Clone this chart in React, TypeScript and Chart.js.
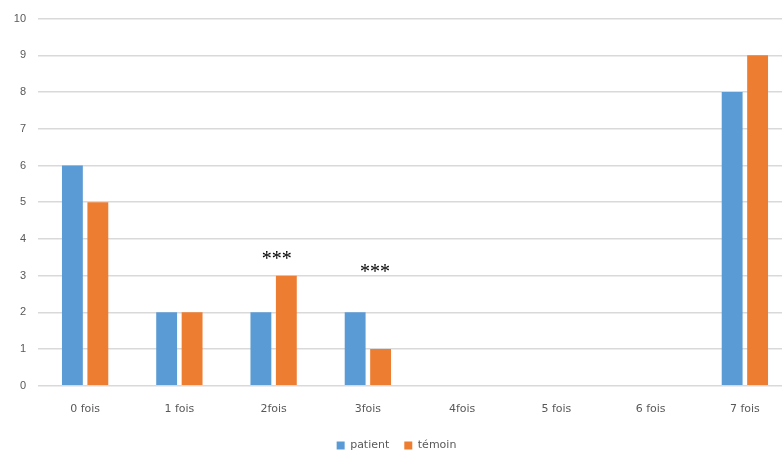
import React, { useEffect, useRef } from "react";
import { Chart, registerables } from "chart.js";

Chart.register(...registerables);

const categories = ["0 fois", "1 fois", "2fois", "3fois", "4fois", "5 fois", "6 fois", "7 fois"];
const patientValues = [6, 2, 2, 2, 0, 0, 0, 8];
const temoinValues = [5, 2, 3, 1, 0, 0, 0, 9];
const yTicks = [0, 1, 2, 3, 4, 5, 6, 7, 8, 9, 10];
// significance marks: category index, label, value height where the mark sits
const markCategories = [2, 3];
const markLabels = ["***", "***"];
const markLevels = [3.6, 3.24];

const starsPlugin = {
  id: "stars",
  afterDatasetsDraw(chart: any) {
    const { ctx, scales } = chart;
    ctx.save();
    ctx.fillStyle = "#000";
    ctx.font = "20px 'Liberation Serif', 'DejaVu Serif', serif";
    ctx.textAlign = "center";
    ctx.textBaseline = "middle";
    markCategories.forEach((ci, i) => {
      const x = scales.x.getPixelForValue(ci) + (i === 0 ? 3 : 7);
      const y = scales.y.getPixelForValue(markLevels[i]) + 6;
      ctx.fillText(markLabels[i], x, y);
    });
    ctx.restore();
  },
};

export default function App() {
  const ref = useRef<HTMLCanvasElement>(null);
  useEffect(() => {
    if (!ref.current) return;
    const font = { family: "'Liberation Sans', Arial, sans-serif", size: 11 };
    const wideFont = { family: "'DejaVu Sans', Verdana, sans-serif", size: 11 };
    const chart = new Chart(ref.current, {
      type: "bar",
      data: {
        labels: categories,
        datasets: [
          {
            label: "patient",
            data: patientValues,
            backgroundColor: "#5B9BD5",
            categoryPercentage: 0.54,
            barPercentage: 0.82,
          },
          {
            label: "témoin",
            data: temoinValues,
            backgroundColor: "#ED7D31",
            categoryPercentage: 0.54,
            barPercentage: 0.82,
          },
        ],
      },
      options: {
        animation: false,
        responsive: false,
        maintainAspectRatio: false,
        layout: { padding: { top: 8, left: 1, right: 0, bottom: 2 } },
        plugins: {
          legend: {
            position: "bottom",
            labels: {
              boxWidth: 8,
              boxHeight: 8,
              color: "#595959",
              font: wideFont,
              padding: 15,
            },
          },
          tooltip: { enabled: false },
        },
        scales: {
          x: {
            grid: { display: false },
            border: { display: false },
            ticks: { color: "#595959", font: wideFont, padding: 9 },
          },
          y: {
            min: 0,
            max: 10,
            afterBuildTicks: (s: any) => {
              s.ticks = yTicks.map((v) => ({ value: v }));
            },
            afterFit: (s: any) => {
              s.width = 37;
            },
            grid: { color: "#d9d9d9", lineWidth: 1.5, drawTicks: false },
            border: { display: false },
            ticks: { color: "#595959", font, padding: 12 },
          },
        },
      },
      plugins: [starsPlugin],
    });
    return () => chart.destroy();
  }, []);
  return (
    <div style={{ position: "absolute", left: 0, top: 0, width: 782, height: 454, overflow: "hidden", background: "#fff" }}>
      <canvas ref={ref} width={792} height={463} style={{ display: "block" }} />
    </div>
  );
}
